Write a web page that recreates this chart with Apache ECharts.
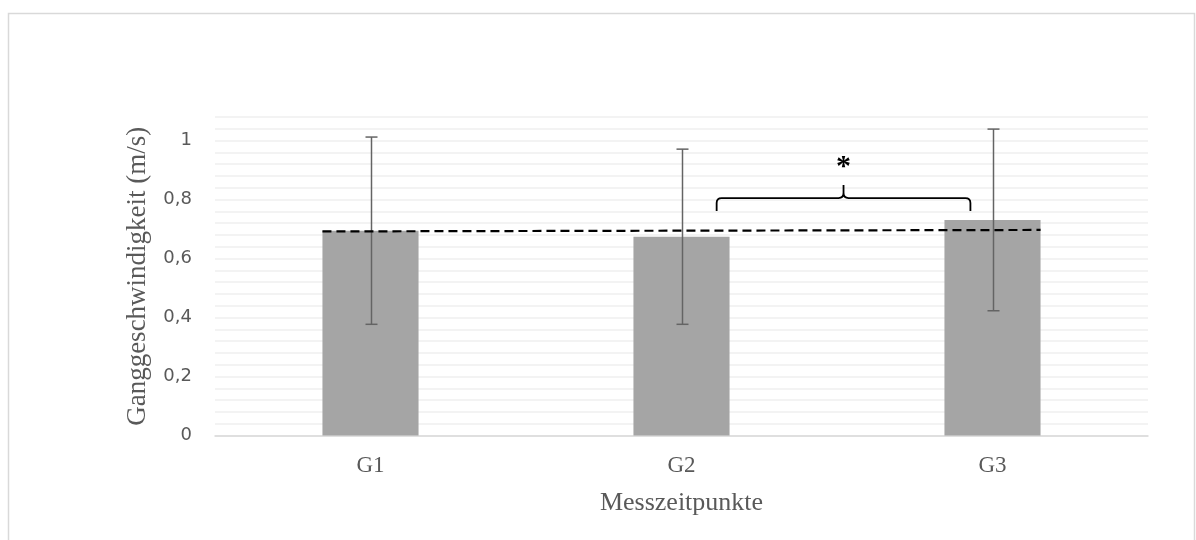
<!DOCTYPE html>
<html>
<head>
<meta charset="utf-8">
<script src="https://cdn.jsdelivr.net/npm/echarts@6/dist/echarts.min.js"></script>
<style>html,body{margin:0;padding:0;background:#fff}#c{width:1196px;height:540px}</style>
</head>
<body>
<div id="c"></div>
<script>
const categories = ['G1', 'G2', 'G3'];
const means = [0.694, 0.674, 0.731];
const errLow = [0.377, 0.377, 0.423];
const errHigh = [1.012, 0.971, 1.039];
const refLine = [0.692, 0.697];          // dashed line value at G1 (left) and G3 (right)
const bracket = [1, 2, 0.805];           // from G2 to G3, at value 0.805
const bracketLabel = '*';
const yTickLabels = [0, 0.2, 0.4, 0.6, 0.8, 1];

const chart = echarts.init(document.getElementById('c'));
const BAR_FRAC = 0.309;
const serif = '"Liberation Serif", "DejaVu Serif", serif';
const sans = '"DejaVu Sans", Lato, sans-serif';

chart.setOption({
  animation: false,
  backgroundColor: '#fff',
  graphic: [{
    type: 'rect', shape: { x: 8.5, y: 13.5, width: 1186, height: 560 },
    style: { fill: 'none', stroke: '#d9d9d9', lineWidth: 1.5 }, z: -10
  }],
  grid: { left: 215, right: 48, top: 117, bottom: 104.5 },
  xAxis: {
    type: 'category', data: categories,
    name: 'Messzeitpunkte', nameLocation: 'middle', nameGap: 55,
    nameTextStyle: { fontFamily: serif, fontSize: 26, color: '#595959' },
    axisLine: { lineStyle: { color: '#d9d9d9', width: 1.5 } },
    axisTick: { show: false },
    axisLabel: { fontFamily: serif, fontSize: 23, color: '#595959', margin: 19 }
  },
  yAxis: {
    type: 'value', min: 0, max: 1.08, interval: 0.04,
    name: 'Ganggeschwindigkeit (m/s)', nameLocation: 'middle', nameGap: 64,
    nameTextStyle: { fontFamily: serif, fontSize: 27, color: '#595959' },
    axisLine: { show: false }, axisTick: { show: false },
    splitLine: { lineStyle: { color: '#efefef', width: 1.5 } },
    axisLabel: {
      fontFamily: sans, fontSize: 18, color: '#595959', margin: 23,
      formatter: function (v) {
        for (const t of yTickLabels) {
          if (Math.abs(v - t) < 1e-6) return String(t).replace('.', ',');
        }
        return '';
      }
    }
  },
  series: [
    {
      type: 'bar', data: means, barWidth: (BAR_FRAC * 100) + '%',
      itemStyle: { color: '#a5a5a5' }, z: 2
    },
    {
      type: 'custom', z: 3,
      data: categories.map((c, i) => [i, errLow[i], errHigh[i]]),
      renderItem: function (params, api) {
        const lo = api.coord([api.value(0), api.value(1)]);
        const hi = api.coord([api.value(0), api.value(2)]);
        const x = Math.round(lo[0]) + 0.5;
        const w = 6;
        const st = { stroke: '#646464', lineWidth: 1.5 };
        return {
          type: 'group', children: [
            { type: 'line', shape: { x1: x, y1: lo[1], x2: x, y2: hi[1] }, style: st },
            { type: 'line', shape: { x1: x - w, y1: hi[1], x2: x + w, y2: hi[1] }, style: st },
            { type: 'line', shape: { x1: x - w, y1: lo[1], x2: x + w, y2: lo[1] }, style: st }
          ]
        };
      }
    },
    {
      type: 'custom', z: 4,
      data: [[0, refLine[0], categories.length - 1, refLine[1]]],
      renderItem: function (params, api) {
        const p0 = api.coord([api.value(0), api.value(1)]);
        const p1 = api.coord([api.value(2), api.value(3)]);
        const bw = api.size([1, 0])[0] * BAR_FRAC;
        return {
          type: 'line',
          shape: { x1: p0[0] - bw / 2, y1: p0[1], x2: p1[0] + bw / 2, y2: p1[1] },
          style: { stroke: '#000', lineWidth: 2.2, lineDash: [9, 5] }
        };
      }
    },
    {
      type: 'custom', z: 5,
      data: [bracket],
      renderItem: function (params, api) {
        const a = api.coord([api.value(0), api.value(2)]);
        const b = api.coord([api.value(1), api.value(2)]);
        const cw = api.size([1, 0])[0];
        const xa = a[0] + 0.113 * cw, xb = b[0] - 0.071 * cw, y = a[1];
        const xm = (xa + xb) / 2;
        const h = 13, r = 5, tip = 13;
        const path = 'M' + xa + ' ' + (y + h) +
          ' L' + xa + ' ' + (y + r) + ' Q' + xa + ' ' + y + ' ' + (xa + r) + ' ' + y +
          ' L' + (xm - r) + ' ' + y + ' Q' + xm + ' ' + y + ' ' + xm + ' ' + (y - r) +
          ' L' + xm + ' ' + (y - tip) +
          ' M' + xm + ' ' + (y - r) + ' Q' + xm + ' ' + y + ' ' + (xm + r) + ' ' + y +
          ' L' + (xb - r) + ' ' + y + ' Q' + xb + ' ' + y + ' ' + xb + ' ' + (y + r) +
          ' L' + xb + ' ' + (y + h);
        return {
          type: 'group', children: [
            { type: 'path', shape: { pathData: path }, style: { fill: 'none', stroke: '#000', lineWidth: 1.8 } },
            { type: 'text', x: xm, y: y - 31, style: { text: bracketLabel, fill: '#000', font: 'bold 30px ' + serif, align: 'center', verticalAlign: 'middle' } }
          ]
        };
      }
    }
  ]
});
</script>
</body>
</html>
